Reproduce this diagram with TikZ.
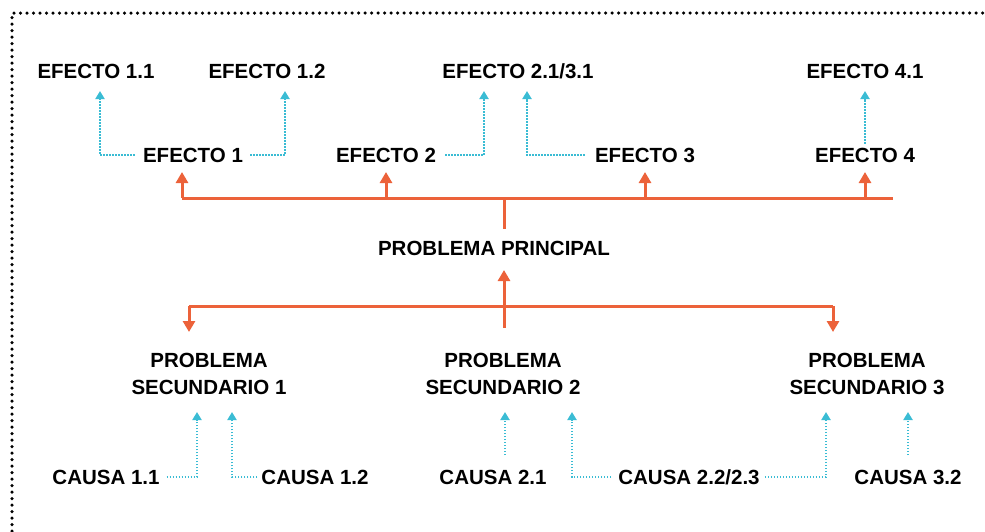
\documentclass[tikz,border=0pt]{standalone}
\usepackage{fontspec}
\setmainfont{Liberation Sans}
\usetikzlibrary{arrows.meta}
\definecolor{orng}{RGB}{236,98,58}
\definecolor{cyn}{RGB}{58,188,212}
\begin{document}
\begin{tikzpicture}[x=1pt,y=-1pt,
  lbl/.style={font=\bfseries\fontsize{20.5}{27}\selectfont, inner sep=0pt, align=center},
  oline/.style={draw=orng, line width=3pt},
  oarr/.style={draw=orng, line width=3pt, -{Triangle[width=12pt,length=11pt]}},
  carr/.style={draw=cyn, line width=2pt, dash pattern=on 1.5pt off 1.5pt, -{Triangle[width=9pt,length=8pt]}},
  frame/.style={draw=black, line width=3.5pt, dash pattern=on 0pt off 6.5pt, line cap=round}]
\useasboundingbox (0,0) rectangle (985,531);
\draw[frame] (12,531) -- (12,13) -- (985,13);
% effects
\node[lbl] (e11) at (96,71) {EFECTO 1.1};
\node[lbl] (e12) at (267,71) {EFECTO 1.2};
\node[lbl] (e2131) at (518,71) {EFECTO 2.1/3.1};
\node[lbl] (e41) at (865,71) {EFECTO 4.1};
\node[lbl] (e1) at (193,155) {EFECTO 1};
\node[lbl] (e2) at (386,155) {EFECTO 2};
\node[lbl] (e3) at (645,155) {EFECTO 3};
\node[lbl] (e4) at (865,155) {EFECTO 4};
\node[lbl] (pp) at (494,248) {PROBLEMA PRINCIPAL};
\node[lbl] (ps1) at (209,373.5) {PROBLEMA\\SECUNDARIO 1};
\node[lbl] (ps2) at (503,373.5) {PROBLEMA\\SECUNDARIO 2};
\node[lbl] (ps3) at (867,373.5) {PROBLEMA\\SECUNDARIO 3};
\node[lbl] (c11) at (106,477) {CAUSA 1.1};
\node[lbl] (c12) at (315,477) {CAUSA 1.2};
\node[lbl] (c21) at (493,477) {CAUSA 2.1};
\node[lbl] (c223) at (689,477) {CAUSA 2.2/2.3};
\node[lbl] (c32) at (908,477) {CAUSA 3.2};
% cyan tips
\coordinate (t11) at (100,91);
\coordinate (t12) at (285,91);
\coordinate (t21) at (484,91);
\coordinate (t31) at (527,91);
\coordinate (t41) at (865,91);
\coordinate (b11) at (197,412);
\coordinate (b12) at (232,412);
\coordinate (b21) at (505,412);
\coordinate (b22) at (572,412);
\coordinate (b23) at (826,412);
\coordinate (b32) at (908,412);
\draw[carr] ([xshift=-8pt]e1.west) -| (t11);
\draw[carr] ([xshift=7pt]e1.east) -| (t12);
\draw[carr] ([xshift=9pt]e2.east) -| (t21);
\draw[carr] ([xshift=-10pt]e3.west) -| (t31);
\draw[carr] ([yshift=4pt]e4.north) -- (t41);
\draw[carr] ([xshift=7pt]c11.east) -| (b11);
\draw[carr] ([xshift=-4pt]c12.west) -| (b12);
\draw[carr] (b21 |- 0,455) -- (b21);
\draw[carr] ([xshift=-7pt]c223.west) -| (b22);
\draw[carr] ([xshift=5pt]c223.east) -| (b23);
\draw[carr] (b32 |- 0,455) -- (b32);
% orange
\coordinate (hl) at (182,198);
\coordinate (hr) at (893,198);
\coordinate (hm) at (504,198);
\coordinate (vt) at (504,229);
\coordinate (lo) at (504,328);
\coordinate (ll) at (189,306);
\coordinate (lr) at (833,306);
\draw[oline] (hl) -- (hr);
\draw[oline] (hm) -- (vt);
\draw[oarr] (hl) -- (182,172);
\draw[oarr] (386,198) -- (386,172);
\draw[oarr] (645,198) -- (645,172);
\draw[oarr] (865,198) -- (865,172);
\draw[oarr] (lo) -- (504,270);
\draw[oline] (ll) -- (lr);
\draw[oarr] (ll) -- (189,332);
\draw[oarr] (lr) -- (833,332);
\end{tikzpicture}
\end{document}
